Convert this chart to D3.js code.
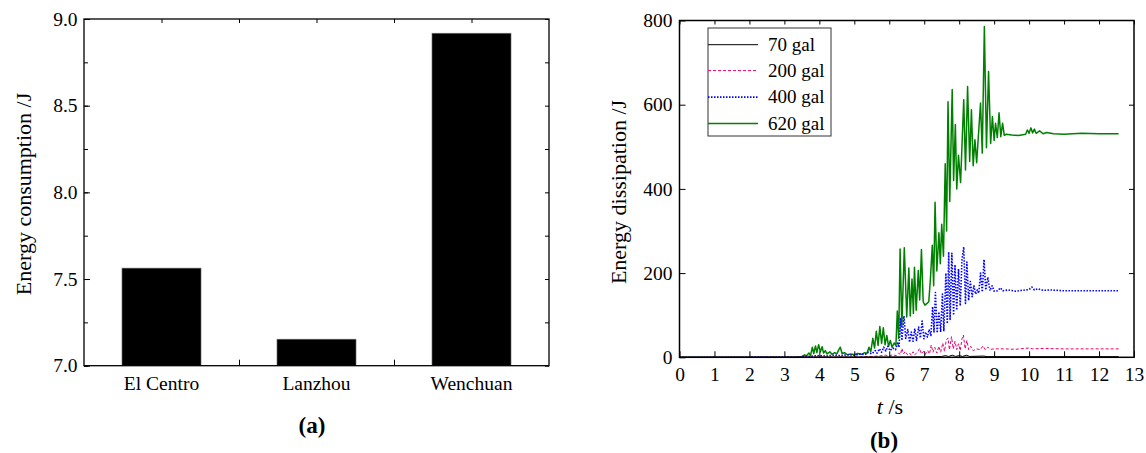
<!DOCTYPE html>
<html>
<head>
<meta charset="utf-8">
<script src="https://cdn.jsdelivr.net/npm/d3@7"></script>
<style>
    body { margin: 0; background: #fff; }
    .tick line { stroke: #000; }
</style>
</head>
<body>
<div id="chart"></div>
<script>
// (a) bar chart data
var categories = ["El Centro", "Lanzhou", "Wenchuan"];
var energyConsumption = [7.563, 7.153, 8.918];
var barTicks = [7.0, 7.5, 8.0, 8.5, 9.0];

// (b) energy dissipation curves, [t (s), energy (J)]
var gal70 = [[0, 0], [5, 0.3], [6, 0.5], [7, 1], [7.5, 2], [7.6, 4], [7.7, 2], [7.8, 5], [7.9, 2], [8.0, 4],
    [8.1, 2], [8.2, 5], [8.3, 2], [8.7, 3], [8.8, 1.5], [9.2, 1.5], [12.56, 1.5]];

var gal200 = [[0, 0], [4.0, 0.5], [5.0, 1], [5.5, 2], [5.7, 3], [5.9, 5], [6.0, 3], [6.1, 6], [6.2, 4], [6.27, 10],
    [6.32, 6], [6.36, 21], [6.41, 8], [6.46, 14], [6.52, 6], [6.58, 10], [6.63, 5], [6.68, 13], [6.73, 6], [6.8, 12],
    [6.87, 21], [6.92, 8], [6.98, 14], [7.03, 7], [7.1, 16], [7.15, 8], [7.2, 29], [7.25, 12], [7.3, 24], [7.36, 10],
    [7.42, 26], [7.47, 12], [7.53, 34], [7.58, 14], [7.63, 41], [7.68, 46], [7.72, 18], [7.78, 49], [7.83, 20],
    [7.88, 38], [7.93, 18], [7.98, 32], [8.03, 16], [8.08, 44], [8.12, 53], [8.17, 20], [8.22, 40], [8.27, 18],
    [8.33, 26], [8.4, 16], [8.5, 20], [8.6, 18], [8.68, 27], [8.75, 18], [8.82, 24], [8.9, 19], [9.0, 20], [9.3, 20],
    [9.6, 19], [10.0, 22], [10.1, 20], [10.4, 21], [11.0, 20], [12.0, 20], [12.56, 20]];

var gal400 = [[0, 0], [3.4, 0.5], [3.6, 2], [3.8, 3], [4.0, 4], [4.2, 3], [4.4, 5], [4.6, 4], [4.8, 6], [5.0, 5],
    [5.2, 8], [5.3, 6], [5.4, 12], [5.5, 8], [5.6, 16], [5.65, 10], [5.72, 20], [5.78, 12], [5.84, 24], [5.9, 15],
    [5.96, 26], [6.02, 16], [6.1, 22], [6.18, 18], [6.24, 34], [6.28, 24], [6.32, 92], [6.36, 40], [6.42, 98],
    [6.47, 45], [6.53, 66], [6.58, 36], [6.63, 60], [6.68, 38], [6.73, 68], [6.78, 40], [6.84, 72], [6.89, 46],
    [6.94, 86], [6.99, 44], [7.04, 60], [7.09, 48], [7.14, 66], [7.19, 52], [7.24, 120], [7.28, 60], [7.32, 154],
    [7.37, 58], [7.42, 108], [7.47, 60], [7.52, 150], [7.56, 62], [7.62, 200], [7.66, 80], [7.7, 250], [7.74, 90],
    [7.79, 247], [7.84, 100], [7.88, 220], [7.93, 112], [7.98, 210], [8.03, 122], [8.08, 232], [8.13, 262],
    [8.18, 128], [8.22, 226], [8.27, 135], [8.32, 180], [8.37, 144], [8.42, 170], [8.47, 150], [8.52, 160],
    [8.56, 152], [8.61, 200], [8.66, 155], [8.71, 232], [8.76, 160], [8.82, 190], [8.88, 158], [8.94, 170],
    [9.0, 157], [9.1, 158], [9.18, 165], [9.25, 158], [9.4, 160], [9.6, 157], [9.8, 159], [10.0, 161], [10.08, 167],
    [10.15, 160], [10.25, 163], [10.4, 159], [10.6, 160], [11.0, 158], [11.5, 158], [12.0, 158], [12.56, 158]];

var gal620 = [[0, 0], [3.4, 0.5], [3.5, 2], [3.58, 6], [3.63, 3], [3.7, 10], [3.75, 5], [3.8, 24], [3.84, 9],
    [3.89, 27], [3.93, 11], [3.98, 30], [4.03, 13], [4.08, 25], [4.12, 10], [4.17, 16], [4.22, 8], [4.3, 13],
    [4.36, 7], [4.44, 11], [4.5, 8], [4.55, 17], [4.6, 24], [4.65, 9], [4.72, 11], [4.8, 6], [4.9, 8], [5.0, 6],
    [5.1, 9], [5.2, 7], [5.3, 11], [5.36, 9], [5.42, 24], [5.47, 13], [5.53, 45], [5.58, 22], [5.63, 62], [5.68, 28],
    [5.73, 73], [5.78, 33], [5.83, 70], [5.88, 30], [5.93, 52], [5.98, 26], [6.03, 40], [6.08, 24], [6.14, 34],
    [6.19, 28], [6.23, 110], [6.27, 45], [6.31, 257], [6.36, 74], [6.43, 260], [6.5, 96], [6.56, 212], [6.6, 98],
    [6.65, 186], [6.69, 104], [6.72, 214], [6.77, 112], [6.83, 206], [6.87, 136], [6.92, 256], [6.97, 132],
    [7.02, 124], [7.08, 128], [7.13, 132], [7.18, 190], [7.23, 266], [7.27, 170], [7.31, 368], [7.36, 205],
    [7.42, 296], [7.46, 222], [7.5, 316], [7.55, 240], [7.6, 460], [7.64, 300], [7.68, 607], [7.73, 370],
    [7.8, 636], [7.84, 420], [7.89, 553], [7.93, 400], [7.98, 480], [8.04, 415], [8.13, 612], [8.18, 445],
    [8.24, 643], [8.3, 465], [8.35, 588], [8.4, 455], [8.45, 517], [8.5, 462], [8.56, 540], [8.61, 604], [8.66, 485],
    [8.72, 786], [8.78, 498], [8.84, 679], [8.9, 508], [8.95, 572], [9.0, 515], [9.04, 556], [9.09, 522],
    [9.14, 581], [9.19, 524], [9.24, 556], [9.29, 527], [9.35, 530], [9.5, 528], [9.7, 527], [9.9, 530],
    [9.95, 540], [10.0, 532], [10.05, 545], [10.1, 533], [10.15, 542], [10.2, 532], [10.3, 538], [10.4, 531],
    [10.5, 534], [10.7, 531], [11.0, 530], [11.5, 532], [12.0, 531], [12.56, 531]];

var seriesNames = ["70 gal", "200 gal", "400 gal", "620 gal"];
var seriesData = [gal70, gal200, gal400, gal620];
var seriesColors = ["#000000", "#e8006e", "#0000ff", "#008000"];
var seriesDash = ["none", "3,2", "1.5,1.5", "none"];
var seriesWidth = [1, 1, 1.6, 1.5];

var serif = "'Liberation Serif', 'Times New Roman', Times, serif";
var tickFont = 19.5;

var svg = d3.select("#chart")
    .append("svg")
    .attr("width", 1146)
    .attr("height", 453)
    .attr("font-family", serif);

// axis groups come with their own font attrs, so reset them
function styleAxis(g) {
    g.select(".domain").remove();
    g.attr("font-family", serif).attr("font-size", tickFont);
    g.selectAll("text").attr("fill", "#000");
}

// ---------- (a) ----------
var ax = { left: 84, right: 549, top: 19, bottom: 365.7 };

var xBand = d3.scaleBand()
    .domain(categories)
    .range([ax.left, ax.right])
    .paddingInner(0.49)
    .paddingOuter(0.245);

var yBar = d3.scaleLinear()
    .domain([7, 9])
    .range([ax.bottom, ax.top]);

// half-band positions for the small ticks
var xHalf = d3.scaleLinear().domain([0, 6]).range([ax.left, ax.right]);

var ga = svg.append("g");

ga.selectAll(".bar")
    .data(categories)
    .enter()
    .append("rect")
    .attr("class", "bar")
    .attr("x", function (d) { return xBand(d); })
    .attr("width", xBand.bandwidth())
    .attr("y", function (d, i) { return yBar(energyConsumption[i]); })
    .attr("height", function (d, i) { return ax.bottom - yBar(energyConsumption[i]); })
    .attr("fill", "#000")
    .attr("stroke", "#777")
    .attr("stroke-width", 0.6);

var minorBar = d3.range(7, 9.01, 0.25);

ga.append("g")
    .attr("transform", "translate(" + ax.left + ",0)")
    .call(d3.axisLeft(yBar).tickValues(barTicks).tickSize(-6).tickPadding(6.5).tickFormat(d3.format(".1f")))
    .call(styleAxis);

ga.append("g")
    .attr("transform", "translate(" + ax.left + ",0)")
    .call(d3.axisLeft(yBar).tickValues(minorBar).tickSize(-4).tickFormat(""))
    .call(styleAxis);

ga.append("g")
    .attr("transform", "translate(" + ax.right + ",0)")
    .call(d3.axisRight(yBar).tickValues(minorBar).tickSize(-4).tickFormat(""))
    .call(styleAxis);

ga.append("g")
    .attr("transform", "translate(0," + ax.bottom + ")")
    .call(d3.axisBottom(xHalf).tickValues([2, 4]).tickSize(-6).tickFormat(""))
    .call(styleAxis);

ga.append("g")
    .attr("transform", "translate(0," + ax.top + ")")
    .call(d3.axisTop(xHalf).tickValues([1, 2, 3, 4, 5]).tickSize(-4).tickFormat(""))
    .call(styleAxis);

ga.append("g")
    .attr("transform", "translate(0," + ax.bottom + ")")
    .call(d3.axisBottom(xBand).tickSize(0).tickPadding(10.5))
    .call(styleAxis);

ga.append("rect")
    .attr("x", ax.left).attr("y", ax.top)
    .attr("width", ax.right - ax.left).attr("height", ax.bottom - ax.top)
    .attr("fill", "none").attr("stroke", "#000").attr("stroke-width", 1.3);

ga.append("text")
    .attr("transform", "translate(23,194) rotate(-90)")
    .attr("text-anchor", "middle")
    .attr("dominant-baseline", "central")
    .attr("font-size", 22)
    .text("Energy consumption /J");

ga.append("text")
    .attr("x", 312).attr("y", 433)
    .attr("text-anchor", "middle")
    .attr("font-size", 23)
    .attr("font-weight", "bold")
    .text("(a)");

// ---------- (b) ----------
var bx = { left: 679.5, right: 1134, top: 20.5, bottom: 357.3 };

var xT = d3.scaleLinear().domain([0, 13]).range([bx.left, bx.right]);
var yE = d3.scaleLinear().domain([0, 800]).range([bx.bottom, bx.top]);

var gb = svg.append("g");

var line = d3.line()
    .x(function (d) { return xT(d[0]); })
    .y(function (d) { return yE(d[1]); });

// green drawn first, black last
for (var i = seriesData.length - 1; i >= 0; i--) {
    gb.append("path")
        .datum(seriesData[i])
        .attr("d", line)
        .attr("fill", "none")
        .attr("stroke", seriesColors[i])
        .attr("stroke-width", seriesWidth[i])
        .attr("stroke-dasharray", seriesDash[i])
        .attr("stroke-linejoin", "round");
}

gb.append("g")
    .attr("transform", "translate(0," + bx.bottom + ")")
    .call(d3.axisBottom(xT).ticks(13).tickSize(-6).tickPadding(9.5))
    .call(styleAxis);

gb.append("g")
    .attr("transform", "translate(0," + bx.top + ")")
    .call(d3.axisTop(xT).ticks(13).tickSize(-4).tickFormat(""))
    .call(styleAxis);

gb.append("g")
    .attr("transform", "translate(" + bx.left + ",0)")
    .call(d3.axisLeft(yE).tickValues([0, 200, 400, 600, 800]).tickSize(-6).tickPadding(7))
    .call(styleAxis);

gb.append("g")
    .attr("transform", "translate(" + bx.right + ",0)")
    .call(d3.axisRight(yE).tickValues([200, 400, 600]).tickSize(-5).tickFormat(""))
    .call(styleAxis);

gb.append("rect")
    .attr("x", bx.left).attr("y", bx.top)
    .attr("width", bx.right - bx.left).attr("height", bx.bottom - bx.top)
    .attr("fill", "none").attr("stroke", "#000").attr("stroke-width", 1.5);

// legend
var legend = gb.append("g");
legend.append("rect")
    .attr("x", 708).attr("y", 28)
    .attr("width", 123).attr("height", 108)
    .attr("fill", "#fff").attr("stroke", "#333").attr("stroke-width", 1);

var legendY = [44.7, 70.6, 97.1, 123.6];
seriesNames.forEach(function (name, i) {
    legend.append("line")
        .attr("x1", 708).attr("x2", 758)
        .attr("y1", legendY[i]).attr("y2", legendY[i])
        .attr("stroke", seriesColors[i])
        .attr("stroke-width", seriesWidth[i])
        .attr("stroke-dasharray", seriesDash[i]);
    legend.append("text")
        .attr("x", 768).attr("y", legendY[i] + 6)
        .attr("font-size", 19)
        .text(name);
});

gb.append("text")
    .attr("transform", "translate(618,192) rotate(-90)")
    .attr("text-anchor", "middle")
    .attr("dominant-baseline", "central")
    .attr("font-size", 22)
    .text("Energy dissipation /J");

var tl = gb.append("text")
    .attr("x", 890).attr("y", 414)
    .attr("text-anchor", "middle")
    .attr("font-size", 22);
tl.append("tspan").attr("font-style", "italic").text("t");
tl.append("tspan").text(" /s");

gb.append("text")
    .attr("x", 884).attr("y", 448)
    .attr("text-anchor", "middle")
    .attr("font-size", 23)
    .attr("font-weight", "bold")
    .text("(b)");
</script>
</body>
</html>
